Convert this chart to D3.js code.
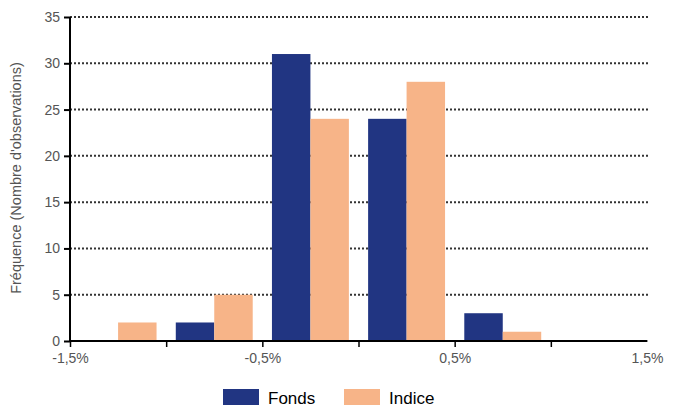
<!DOCTYPE html>
<html>
<head>
<meta charset="utf-8">
<script src="https://cdn.jsdelivr.net/npm/d3@7"></script>
<style>
  body { margin: 0; background: #fff; }
  text { font-family: "Liberation Sans", Arial, sans-serif; }
</style>
</head>
<body>
<div id="chart"></div>
<script>
// bins (left edges, in %) and series
var bins = ["-1.5", "-1.0", "-0.5", "0.0", "0.5", "1.0"];
var fonds = [0, 2, 31, 24, 3, 0];
var indice = [2, 5, 24, 28, 1, 0];
var series = ["Fonds", "Indice"];
var colors = ["#213582", "#f7b488"];
var xTicks = [-1.5, -1, -0.5, 0, 0.5, 1, 1.5];
var yTicks = [0, 5, 10, 15, 20, 25, 30, 35];

var W = 681, H = 412;
var margin = {top: 17, right: 34, bottom: 71, left: 70},
    width = W - margin.left - margin.right,
    height = H - margin.top - margin.bottom;

var svg = d3.select("#chart").append("svg")
    .attr("width", W).attr("height", H)
    .append("g")
    .attr("transform", "translate(" + margin.left + "," + margin.top + ")");

var x = d3.scaleLinear().domain([-1.5, 1.5]).range([0, width]);
var y = d3.scaleLinear().domain([0, 35]).range([height, 0]);

var x0 = d3.scaleBand().domain(bins).range([0, width])
    .paddingInner(0.2).paddingOuter(0.1);
var x1 = d3.scaleBand().domain(series).range([0, x0.bandwidth()]);

// dotted gridlines
svg.selectAll(".grid").data(yTicks).enter().append("line")
    .attr("x1", 0).attr("x2", width + 3)
    .attr("y1", function (d) { return y(d); })
    .attr("y2", function (d) { return y(d); })
    .style("stroke", function (d) { return d === 0 ? "#999" : "#333"; })
    .style("stroke-width", 2)
    .style("stroke-dasharray", "2,2");

// bars
var rows = bins.map(function (b, i) { return {bin: b, vals: [fonds[i], indice[i]]}; });
var groups = svg.selectAll(".bin").data(rows).enter().append("g")
    .attr("transform", function (d) { return "translate(" + x0(d.bin) + ",0)"; });
groups.selectAll("rect")
    .data(function (d) { return d.vals.map(function (v, j) { return {s: series[j], v: v, c: colors[j]}; }); })
    .enter().append("rect")
    .filter(function (d) { return d.v > 0; })
    .attr("x", function (d) { return x1(d.s); })
    .attr("width", x1.bandwidth())
    .attr("y", function (d) { return y(d.v); })
    .attr("height", function (d) { return height - y(d.v); })
    .style("fill", function (d) { return d.c; });

// y axis
var yAxis = svg.append("g")
    .call(d3.axisLeft(y).tickValues(yTicks).tickSize(6).tickPadding(4));
yAxis.select(".domain").attr("d", "M0," + y(0) + "V" + y(35)).style("stroke", "#000").style("stroke-width", 2);
yAxis.selectAll(".tick line").style("stroke", "#000").style("stroke-width", 2);
yAxis.selectAll("text").style("font-size", "14px").style("fill", "#555");

// x axis
var xAxis = svg.append("g")
    .attr("transform", "translate(0," + height + ")")
    .call(d3.axisBottom(x).tickValues(xTicks).tickSize(6).tickPadding(6)
        .tickFormat(function (d, i) {
            return i % 2 === 0 ? d.toFixed(1).replace(".", ",") + "%" : "";
        }));
xAxis.select(".domain").attr("d", "M0,0H" + width).style("stroke", "#000").style("stroke-width", 2);
xAxis.selectAll(".tick line").style("stroke", "#000").style("stroke-width", 1.5)
    .filter(function (d) { return d === 1.5; }).remove();
xAxis.selectAll("text").style("font-size", "14px").style("fill", "#555");

// y label
svg.append("text")
    .attr("transform", "rotate(-90)")
    .attr("x", -height / 2 + 1)
    .attr("y", -49)
    .attr("text-anchor", "middle")
    .style("font-size", "14.5px")
    .style("fill", "#555")
    .text("Fréquence (Nombre d'observations)");

// legend
var legX = [223, 344];
var legend = d3.select("svg").selectAll(".leg").data(series).enter().append("g")
    .attr("transform", function (d, i) { return "translate(" + legX[i] + ",389)"; });
legend.append("rect").attr("width", 36).attr("height", 16)
    .style("fill", function (d, i) { return colors[i]; });
legend.append("text").attr("x", 45).attr("y", 14.5)
    .style("font-size", "17px").style("fill", "#000")
    .text(function (d) { return d; });
</script>
</body>
</html>
